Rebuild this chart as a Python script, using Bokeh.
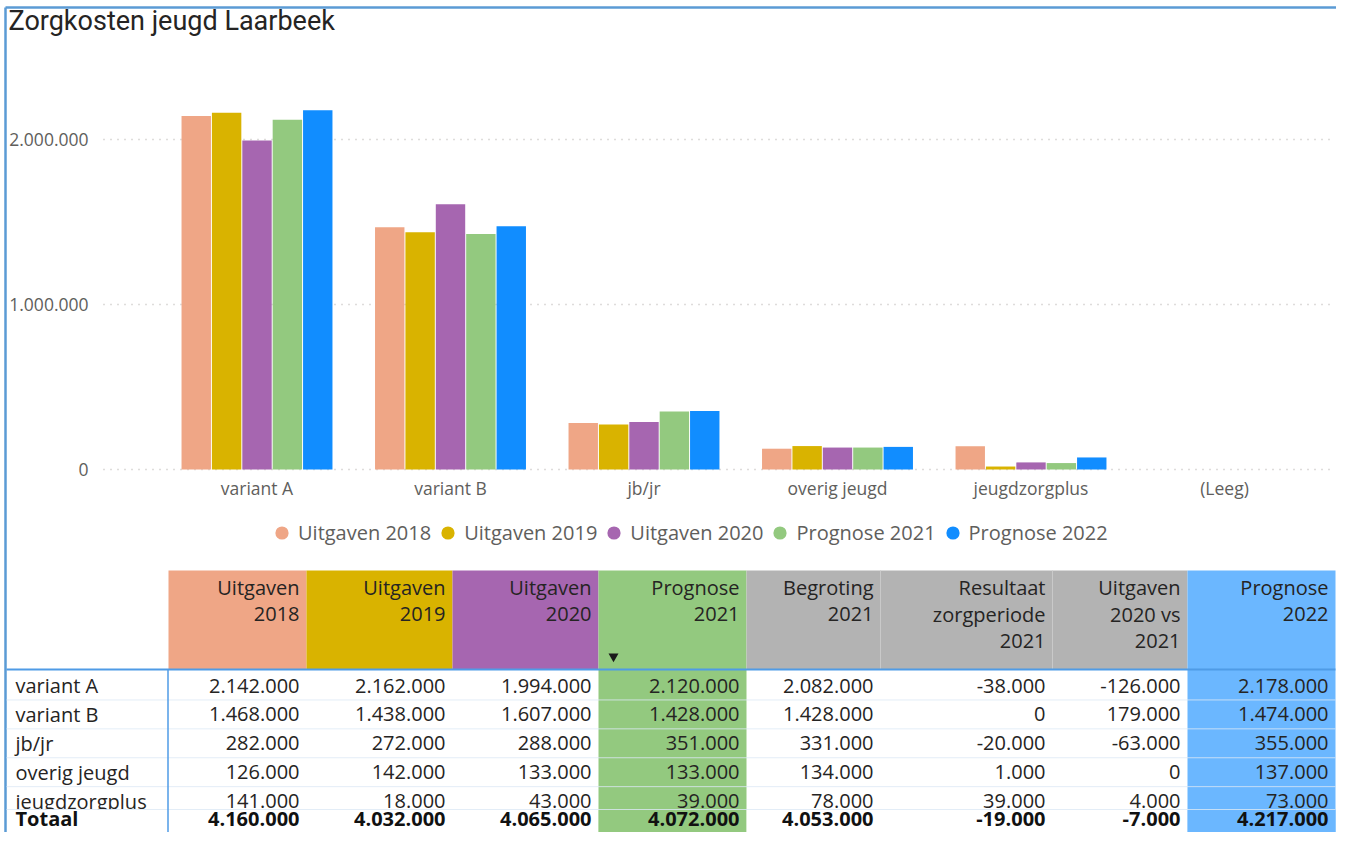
from bokeh.plotting import figure
from bokeh.models import Range1d, Legend, LegendItem
from bokeh.core.properties import value
from bokeh.embed import file_html
from bokeh.resources import INLINE

# ---------------- data ----------------
TITLE = "Zorgkosten jeugd Laarbeek"
categories = ["variant A", "variant B", "jb/jr", "overig jeugd", "jeugdzorgplus", "(Leeg)"]
row_labels = ["variant A", "variant B", "jb/jr", "overig jeugd", "jeugdzorgplus"]
total_label = "Totaal"

series_names = ["Uitgaven 2018", "Uitgaven 2019", "Uitgaven 2020", "Prognose 2021", "Prognose 2022"]
uitgaven_2018 = [2142000, 1468000, 282000, 126000, 141000]
uitgaven_2019 = [2162000, 1438000, 272000, 142000, 18000]
uitgaven_2020 = [1994000, 1607000, 288000, 133000, 43000]
prognose_2021 = [2120000, 1428000, 351000, 133000, 39000]
begroting_2021 = [2082000, 1428000, 331000, 134000, 78000]
resultaat_2021 = [-38000, 0, -20000, 1000, 39000]
uitgaven_2020_vs_2021 = [-126000, 179000, -63000, 0, 4000]
prognose_2022 = [2178000, 1474000, 355000, 137000, 73000]

totals = [4160000, 4032000, 4065000, 4072000, 4053000, -19000, -7000, 4217000]

table_headers = [["Uitgaven", "2018"], ["Uitgaven", "2019"], ["Uitgaven", "2020"],
                 ["Prognose", "2021"], ["Begroting", "2021"],
                 ["Resultaat", "zorgperiode", "2021"], ["Uitgaven", "2020 vs", "2021"],
                 ["Prognose", "2022"]]
table_values = [uitgaven_2018, uitgaven_2019, uitgaven_2020, prognose_2021,
                begroting_2021, resultaat_2021, uitgaven_2020_vs_2021, prognose_2022]

y_ticks = [0, 1000000, 2000000]

# ---------------- style ----------------
SALMON = "#EFA686"
GOLD = "#D9B300"
PURPLE = "#A666B0"
GREEN = "#93C97F"
BLUE = "#118DFF"
TBL_BLUE = "#6BB7FF"
GREY = "#B3B3B3"
bar_colors = [SALMON, GOLD, PURPLE, GREEN, BLUE]
header_colors = [SALMON, GOLD, PURPLE, GREEN, GREY, GREY, GREY, TBL_BLUE]
body_colors = ["white", "white", "white", GREEN, "white", "white", "white", TBL_BLUE]
FONT = "Open Sans"
TXT = "#252423"
AXT = "#605E5C"
LINE_BLUE = "#4F9BE6"
FRAME_BLUE = "#5B9BD5"


def fmt(v):
    s = f"{abs(int(v)):,}".replace(",", ".")
    return "-" + s if v < 0 else s


# ---------------- one canvas, picture-pixel base ranges ----------------
W, H = 1336, 832
p = figure(width=W, height=H, x_range=Range1d(0, W), y_range=Range1d(H, 0),
           output_backend="svg", toolbar_location=None,
           x_axis_location=None, y_axis_location=None, min_border=0)
p.grid.visible = False
p.outline_line_color = None
p.background_fill_color = "white"

# visual frame (left + top edge)
p.segment(x0=[5, 5], x1=[W, 5], y0=[7, 7], y1=[7, H], line_color=FRAME_BLUE, line_width=2.5)

# chart scales: category axis and value axis
cat_center0, cat_step = 256.5, 193.5        # px of first category centre, px per category
zero_px, px_per_million = 469.0, 165.0
p.extra_x_ranges = {"cat": Range1d((0 - cat_center0) / cat_step, (W - cat_center0) / cat_step)}
p.extra_y_ranges = {"val": Range1d((zero_px - H) / px_per_million * 1e6,
                                   (zero_px - 0) / px_per_million * 1e6)}

# title
p.text(x=[8], y=[20.5], text=[TITLE], text_font=value("Roboto"), text_font_size="27px",
       text_color=TXT, text_baseline="alphabetic", text_align="left")

# gridlines + y tick labels
plot_left, plot_right = 103, 1330
p.segment(x0=[plot_left] * len(y_ticks), x1=[plot_right] * len(y_ticks), y0=y_ticks, y1=y_ticks,
          y_range_name="val", line_color="#BDBAB7", line_dash="1 6", line_width=1.3)
p.text(x=[88] * len(y_ticks), y=y_ticks, text=[fmt(t) for t in y_ticks], y_range_name="val",
       text_align="right", text_baseline="alphabetic",
       text_font=value(FONT), text_font_size="17.5px", text_color=AXT)

# bars
series_values = [uitgaven_2018, uitgaven_2019, uitgaven_2020, prognose_2021, prognose_2022]
pitch = 0.157
for k, (vals, col) in enumerate(zip(series_values, bar_colors)):
    xs = [i + (k - 2) * pitch for i in range(len(vals))]
    p.vbar(x=xs, top=vals, bottom=0, width=0.152, fill_color=col, line_color=None,
           x_range_name="cat", y_range_name="val")

# category labels
p.text(x=list(range(len(categories))), y=[487.5] * len(categories), text=categories,
       x_range_name="cat", text_align="center", text_baseline="alphabetic",
       text_font=value(FONT), text_font_size="17.5px", text_color=AXT)

# legend (round markers; renderers hold no visible point)
items = []
for name, col in zip(series_names, bar_colors):
    r = p.scatter(x=[float("nan")], y=[float("nan")], marker="circle", size=14,
                  fill_color=col, line_color=None)
    items.append(LegendItem(label=value(name), renderers=[r]))
legend = Legend(items=items, orientation="horizontal", location=(265, 283),
                glyph_width=33, glyph_height=33, label_standoff=0, spacing=0,
                padding=0, margin=0, border_line_color=None, background_fill_alpha=0,
                label_text_font=FONT, label_text_font_size="20px", label_text_color=AXT)
p.add_layout(legend)

# ---------------- table ----------------
edges = [168, 306, 452, 598, 746, 880, 1052, 1187, 1335]
label_right = 167.5
head_top, head_bot = 570, 669
row_c0, row_h = 685, 28.9
tot_top = 809
tot_c = 818
tbl_bottom = H
tbl_left = 6

p.quad(left=edges[:-1], right=edges[1:], top=[head_top] * 8, bottom=[head_bot] * 8,
       fill_color=header_colors, line_color=None)
for j, c in enumerate(body_colors):
    if c != "white":
        p.quad(left=[edges[j]], right=[edges[j + 1]], top=[head_bot], bottom=[tbl_bottom],
               fill_color=c, line_color=None)
sep_y = [row_c0 + (i - 0.5) * row_h for i in range(1, len(row_labels))]
p.segment(x0=[tbl_left] * len(sep_y), x1=[edges[-1]] * len(sep_y), y0=sep_y, y1=sep_y,
          line_color="#DCE8F5", line_alpha=0.8, line_width=1)
p.segment(x0=[880, 1052], x1=[880, 1052], y0=[head_top] * 2, y1=[head_bot] * 2,
          line_color="#C9C9C9", line_width=1)

vx, vy, vt = [], [], []
for j, vals in enumerate(table_values):
    for i, v in enumerate(vals):
        vx.append(edges[j + 1] - 7)
        vy.append(row_c0 + i * row_h)
        vt.append(fmt(v))
p.text(x=vx, y=vy, text=vt, text_align="right", text_baseline="alphabetic",
       text_font=value(FONT), text_font_size="20px", text_color=TXT)
p.text(x=[15] * len(row_labels), y=[row_c0 + i * row_h for i in range(len(row_labels))],
       text=row_labels, text_align="left", text_baseline="alphabetic",
       text_font=value(FONT), text_font_size="20px", text_color=TXT)

tot_left = [tbl_left + 1] + edges[:-1]
tot_right = [label_right] + edges[1:]
tot_cols = ["white"] + body_colors
p.quad(left=tot_left, right=tot_right, top=[tot_top] * len(tot_left), bottom=[tbl_bottom] * len(tot_left),
       fill_color=tot_cols, line_color=None)
p.segment(x0=[tbl_left], x1=[edges[-1]], y0=[tot_top], y1=[tot_top],
          line_color="#DCE8F5", line_alpha=0.8, line_width=1)
p.text(x=[edges[j + 1] - 7 for j in range(len(totals))], y=[tot_c] * len(totals),
       text=[fmt(t) for t in totals], text_align="right", text_baseline="alphabetic",
       text_font=value(FONT), text_font_size="20px", text_font_style="bold", text_color="#111111")
p.text(x=[15], y=[tot_c], text=[total_label], text_align="left", text_baseline="alphabetic",
       text_font=value(FONT), text_font_size="20px", text_font_style="bold", text_color="#111111")

hx, hy, ht = [], [], []
for j, lines in enumerate(table_headers):
    for k, line in enumerate(lines):
        hx.append(edges[j + 1] - 7)
        hy.append(587 + 26.5 * k)
        ht.append(line)
p.text(x=hx, y=hy, text=ht, text_align="right", text_baseline="alphabetic",
       text_font=value(FONT), text_font_size="20px", text_color=TXT)
p.scatter(x=[edges[3] + 15], y=[656], marker="inverted_triangle", size=10,
          fill_color="#1A1A1A", line_color=None)

p.segment(x0=[tbl_left], x1=[edges[-1]], y0=[head_bot], y1=[head_bot], line_color=LINE_BLUE, line_width=2)
p.segment(x0=[label_right], x1=[label_right], y0=[head_bot], y1=[tbl_bottom], line_color=LINE_BLUE, line_width=1.5)

open("out.html", "w").write(file_html(p, INLINE))
